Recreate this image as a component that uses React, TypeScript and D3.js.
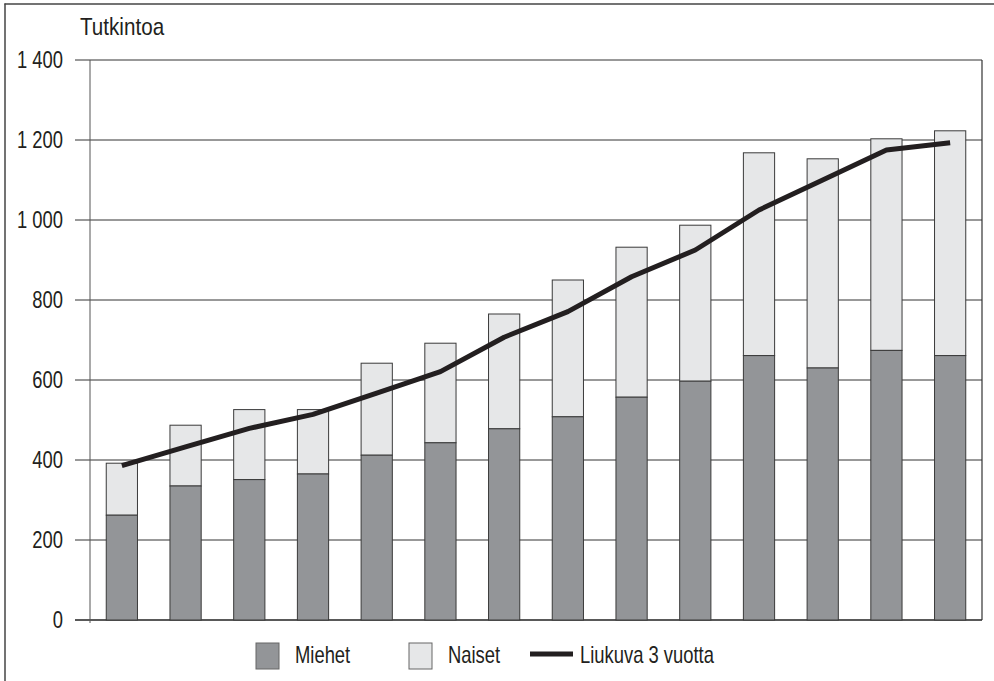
import * as d3 from 'd3';
import type { ReactNode } from 'react';

const YEARS = ['1', '2', '3', '4', '5', '6', '7', '8', '9', '10', '11', '12', '13', '14'];
const MIEHET = [262, 335, 351, 365, 412, 443, 478, 508, 557, 597, 661, 630, 674, 661];
const TOTAL = [392, 487, 526, 526, 642, 692, 765, 850, 932, 987, 1168, 1153, 1203, 1223];
const LIUKUVA = [386, 433, 479, 514, 567, 621, 707, 771, 858, 925, 1025, 1100, 1175, 1193];
const Y_TICKS = [0, 200, 400, 600, 800, 1000, 1200, 1400];

const W = 994;
const H = 681;
const PLOT = { left: 90, right: 982, top: 60, bottom: 620 };
const FONT = '"Liberation Sans", Arial, sans-serif';

const C_MEN = '#939598';
const C_WOMEN = '#e6e7e8';
const C_EDGE = '#3a3a3a';
const C_LINE = '#231f20';

const fmt = (v: number) => (v >= 1000 ? `${Math.floor(v / 1000)} ${String(v % 1000).padStart(3, '0')}` : String(v));

// condensed text: squeeze a regular sans horizontally
function Txt({ x, y, size = 23, sx = 0.8, anchor = 'start', dy, children }: {
  x: number; y: number; size?: number; sx?: number; anchor?: string; dy?: string; children: ReactNode;
}) {
  return (
    <text
      transform={`translate(${x},${y}) scale(${sx},1)`}
      dy={dy}
      textAnchor={anchor}
      fontFamily={FONT}
      fontSize={size}
      fill="#231f20"
    >
      {children}
    </text>
  );
}

export default function App() {
  const x = d3.scaleBand<string>().domain(YEARS).range([PLOT.left, PLOT.right]).paddingInner(0.51).paddingOuter(0.255);
  const y = d3.scaleLinear().domain([0, 1400]).range([PLOT.bottom, PLOT.top]);
  const bw = x.bandwidth();

  const line = d3
    .line<number>()
    .x((_, i) => (x(YEARS[i]) ?? 0) + bw / 2)
    .y((d) => y(d));

  return (
    <svg
      width={W}
      height={H}
      style={{ display: 'block', position: 'absolute', left: 0, top: 0, background: '#fff' }}
    >
      {/* outer frame */}
      <line x1={5} x2={5} y1={3.5} y2={H} stroke="#444" strokeWidth={1.5} />
      <line x1={4.5} x2={W} y1={4} y2={4} stroke="#444" strokeWidth={1.5} />

      <Txt x={80} y={35} size={24} sx={0.86}>Tutkintoa</Txt>

      {/* grid + ticks */}
      {Y_TICKS.map((t) => (
        <g key={t}>
          <line x1={75} x2={PLOT.right} y1={y(t)} y2={y(t)} stroke={t === 0 ? '#222' : '#333'} strokeWidth={t === 0 ? 1.5 : 1} />
          <Txt x={63} y={y(t)} dy="0.36em" anchor="end">{fmt(t)}</Txt>
        </g>
      ))}
      <line x1={PLOT.left} x2={PLOT.left} y1={PLOT.top} y2={PLOT.bottom + 3} stroke="#555" strokeWidth={1} />
      <line x1={PLOT.right} x2={PLOT.right} y1={PLOT.top} y2={PLOT.bottom} stroke="#333" strokeWidth={1.2} />

      {/* bars */}
      {YEARS.map((yr, i) => {
        const bx = x(yr) ?? 0;
        return (
          <g key={yr}>
            <rect x={bx} y={y(TOTAL[i])} width={bw} height={y(MIEHET[i]) - y(TOTAL[i])} fill={C_WOMEN} stroke={C_EDGE} strokeWidth={1} />
            <rect x={bx} y={y(MIEHET[i])} width={bw} height={y(0) - y(MIEHET[i])} fill={C_MEN} stroke={C_EDGE} strokeWidth={1} />
          </g>
        );
      })}

      <path d={line(LIUKUVA) ?? ''} fill="none" stroke={C_LINE} strokeWidth={5} strokeLinejoin="round" />

      {/* legend */}
      <rect x={256} y={643} width={23} height={26} fill={C_MEN} stroke="#666" strokeWidth={1} />
      <Txt x={295} y={663}>Miehet</Txt>
      <rect x={409} y={643} width={23} height={26} fill={C_WOMEN} stroke="#666" strokeWidth={1} />
      <Txt x={448} y={663}>Naiset</Txt>
      <line x1={530} x2={573} y1={654} y2={654} stroke={C_LINE} strokeWidth={5} />
      <Txt x={580} y={663}>Liukuva 3 vuotta</Txt>
    </svg>
  );
}
